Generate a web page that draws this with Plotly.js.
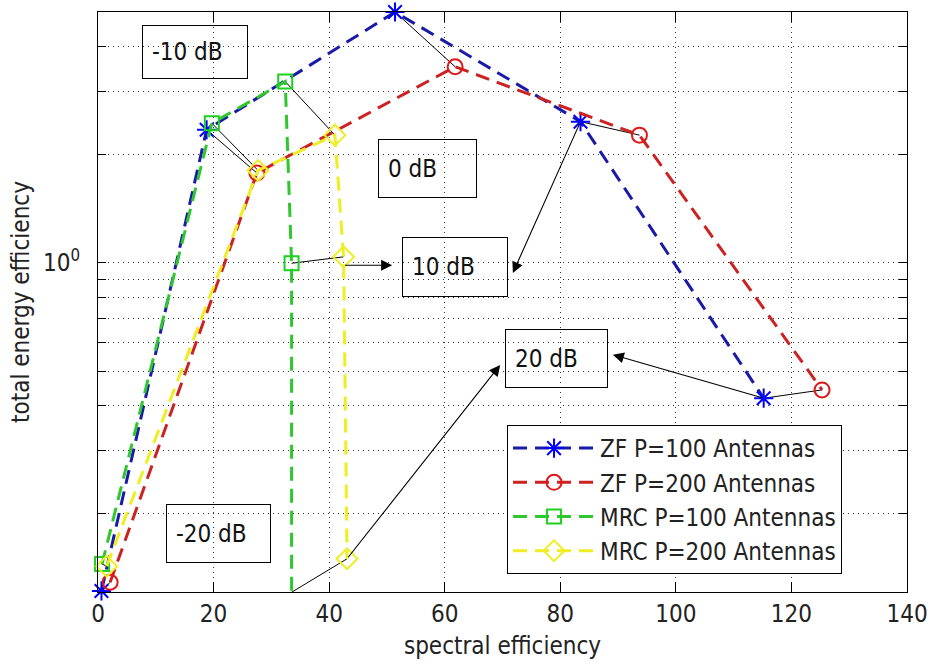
<!DOCTYPE html>
<html>
<head>
<meta charset="utf-8">
<script src="https://cdn.plot.ly/plotly-3.0.1.min.js"></script>
<style>html,body{margin:0;padding:0;background:#fff;}#chart{width:933px;height:666px;}</style>
</head>
<body>
<div id="chart"></div>
<script>
// ---- data ----
const snrLabels = ['-20 dB', '-10 dB', '0 dB', '10 dB', '20 dB'];
const seriesNames = ['ZF P=100 Antennas', 'ZF P=200 Antennas', 'MRC P=100 Antennas', 'MRC P=200 Antennas'];

const zf100X = [0.6, 18.8, 51.4, 83.5, 115.2];
const zf100Y = [0.122, 2.35, 5.0, 2.475, 0.42];

const zf200X = [2.1, 27.5, 61.8, 93.7, 125.3];
const zf200Y = [0.129, 1.78, 3.52, 2.27, 0.443];

const mrc100X = [0.7, 19.7, 32.4, 33.5, 33.5];
const mrc100Y = [0.145, 2.45, 3.20, 0.998, 0.121];

const mrc200X = [1.5, 27.7, 41.0, 42.5, 43.1];
const mrc200Y = [0.143, 1.81, 2.27, 1.04, 0.150];

const xTicks = [0, 20, 40, 60, 80, 100, 120, 140];
const yMajorVals = [1];
const yMajorText = ['10<sup>0</sup>'];
const yMinorVals = [0.2, 0.3, 0.4, 0.5, 0.6, 0.7, 0.8, 0.9, 2, 3, 4];

// ---- styling ----
const FONT = '"Liberation Sans Narrow", "Arial Narrow", "DejaVu Sans Condensed", "Liberation Sans", Arial, sans-serif';
const FS = 24;
const DASH = '14px,8px';

function series(x, y, name, lineColor, markerColor, symbol, size, width) {
  return {
    x: x, y: y, name: name, type: 'scatter', mode: 'lines+markers', cliponaxis: false,
    line: {color: lineColor, width: width, dash: DASH},
    marker: {symbol: symbol, size: size, color: markerColor, line: {color: markerColor, width: 2}}
  };
}

const traces = [];
// thin black connectors joining the two antenna counts at each SNR
const pairs = [[zf100X, zf100Y, zf200X, zf200Y], [mrc100X, mrc100Y, mrc200X, mrc200Y]];
pairs.forEach(p => {
  for (let i = 0; i < snrLabels.length; i++) {
    traces.push({
      x: [p[0][i], p[2][i]], y: [p[1][i], p[3][i]], type: 'scatter', mode: 'lines',
      line: {color: '#000', width: 1}, showlegend: false, hoverinfo: 'skip', cliponaxis: false
    });
  }
});

traces.push(series(zf100X, zf100Y, seriesNames[0], '#1a1aa8', '#0000ff', 'asterisk-open', 16, 3));
traces.push(series(zf200X, zf200Y, seriesNames[1], '#cc2222', '#e01818', 'circle-open', 15, 3));
traces.push(series(mrc100X, mrc100Y, seriesNames[2], '#2ec82e', '#20d020', 'square-open', 14, 3));
traces.push(series(mrc200X, mrc200Y, seriesNames[3], '#eeee22', '#eeee22', 'diamond-open', 16, 3));

// ---- text boxes (paper coords of their top-left corners) ----
function box(text, x, y, w, h) {
  return {
    text: text, xref: 'paper', yref: 'paper', x: x, y: y, xanchor: 'left', yanchor: 'top',
    showarrow: false, align: 'left', valign: 'middle',
    width: w - 20, height: h - 20, borderpad: 9, bordercolor: '#000', borderwidth: 1,
    font: {family: FONT, size: FS, color: '#111'}
  };
}
function arrow(tx, ty, hx, hy) {
  return {
    text: '', xref: 'x', yref: 'y', axref: 'x', ayref: 'y',
    x: hx, y: Math.log10(hy), ax: tx, ay: Math.log10(ty),
    showarrow: true, arrowhead: 2, arrowsize: 2, arrowwidth: 1.1, arrowcolor: '#000',
    standoff: 0, startstandoff: 0
  };
}

const annotations = [
  box(snrLabels[1], 0.0544, 0.9776, 106, 54),
  box(snrLabels[2], 0.3461, 0.7810, 99, 59),
  box(snrLabels[3], 0.3758, 0.6121, 106, 60),
  box(snrLabels[4], 0.5031, 0.4534, 103, 59),
  box(snrLabels[0], 0.0841, 0.1517, 105, 59),
  arrow(mrc200X[3], 0.985, 50.9, 0.985),
  arrow(zf100X[3], zf100Y[3], 71.8, 0.938),
  arrow(zf100X[4], zf100Y[4], 89.1, 0.555),
  arrow(mrc200X[4], mrc200Y[4], 69.6, 0.52)
];

const axisCommon = {
  showline: true, linecolor: '#000', linewidth: 1, mirror: 'ticks',
  ticks: 'inside', tickcolor: '#000', tickwidth: 1,
  showgrid: true, gridcolor: '#333', gridwidth: 1, griddash: '1px,4px',
  zeroline: false, tickfont: {family: FONT, size: FS, color: '#222'}
};

const layout = {
  width: 933, height: 666,
  margin: {l: 98, r: 26, t: 12, b: 74, pad: 0},
  paper_bgcolor: '#fff', plot_bgcolor: '#fff',
  font: {family: FONT, size: FS, color: '#222'},
  xaxis: Object.assign({}, axisCommon, {
    range: [0, 140], tickmode: 'array', tickvals: xTicks, ticklen: 10,
    title: {text: 'spectral efficiency', font: {family: FONT, size: FS, color: '#222'}, standoff: 10}
  }),
  yaxis: Object.assign({}, axisCommon, {
    type: 'log', range: [Math.log10(0.1212), Math.log10(5.0)],
    tickmode: 'array', tickvals: yMajorVals, ticktext: yMajorText, ticklen: 8,
    ticklabelstandoff: 12,
    minor: {tickmode: 'array', tickvals: yMinorVals, ticks: 'inside', ticklen: 8, tickcolor: '#000',
            showgrid: true, gridcolor: '#333', gridwidth: 1, griddash: '1px,4px'},
    title: {text: 'total energy efficiency', font: {family: FONT, size: FS, color: '#222'}, standoff: 6}
  }),
  showlegend: true,
  legend: {
    x: 0.5056, y: 0.2879, xanchor: 'left', yanchor: 'top',
    bgcolor: '#fff', bordercolor: '#000', borderwidth: 1,
    font: {family: FONT, size: FS, color: '#222'}, itemwidth: 82, tracegroupgap: 0
  },
  annotations: annotations
};

Plotly.newPlot('chart', traces, layout, {displayModeBar: false, staticPlot: true});
</script>
</body>
</html>
